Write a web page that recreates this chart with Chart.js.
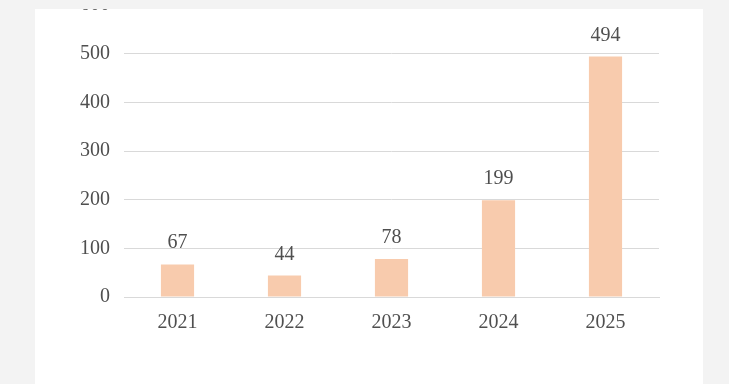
<!DOCTYPE html>
<html><head><meta charset="utf-8">
<script src="https://cdn.jsdelivr.net/npm/chart.js@4/dist/chart.umd.min.js"></script>
<style>
html,body{margin:0;padding:0;width:729px;height:384px;overflow:hidden;background:#f3f3f3;}
#panel{position:absolute;left:35px;top:0;width:668px;height:384px;background:#fff;}
#wrap{position:absolute;left:0;top:-21px;width:729px;height:354px;}
#topbar{position:absolute;left:0;top:0;width:729px;height:9px;background:#f3f3f3;}
</style></head>
<body>
<div id="panel"></div>
<div id="wrap"><canvas id="c"></canvas></div>
<div id="topbar"></div>
<script>
const categories = ['2021','2022','2023','2024','2025'];
const values = [67, 44, 78, 199, 494];
const yTicks = [0,100,200,300,400,500,600];

const FONT = {family:'"Liberation Serif","Times New Roman",serif', size:20};
const TXT = '#4f4f4f';

const valueLabels = {
  id:'valueLabels',
  afterDatasetsDraw(chart){
    const ctx = chart.ctx;
    const meta = chart.getDatasetMeta(0);
    ctx.save();
    ctx.font = FONT.size+'px '+FONT.family;
    ctx.fillStyle = TXT;
    ctx.textAlign = 'center';
    ctx.textBaseline = 'alphabetic';
    meta.data.forEach((bar,i)=>{
      ctx.fillText(String(values[i]), bar.x, bar.y - 16);
    });
    ctx.restore();
  }
};

new Chart(document.getElementById('c'), {
  type:'bar',
  data:{labels:categories, datasets:[{data:values, backgroundColor:'#f8cbad', borderWidth:0, categoryPercentage:1, barPercentage:0.31}]},
  options:{
    responsive:true, maintainAspectRatio:false, animation:false,
    layout:{padding:{left:0,right:70,top:0,bottom:0}},
    plugins:{legend:{display:false}, tooltip:{enabled:false}},
    scales:{
      x:{
        grid:{display:false, drawTicks:false},
        border:{display:true,color:'#d9d9d9',width:1},
        ticks:{color:TXT,font:FONT,padding:14},
        afterFit(s){ s.height = 36; }
      },
      y:{
        min:0,max:600,
        afterBuildTicks(s){ s.ticks = yTicks.map(v=>({value:v})); },
        grid:{color:'#d9d9d9',lineWidth:1,drawTicks:false},
        border:{display:false},
        ticks:{color:TXT,font:FONT,padding:14},
        afterFit(s){ s.width = 124; }
      }
    }
  },
  plugins:[valueLabels]
});
</script>
</body></html>
